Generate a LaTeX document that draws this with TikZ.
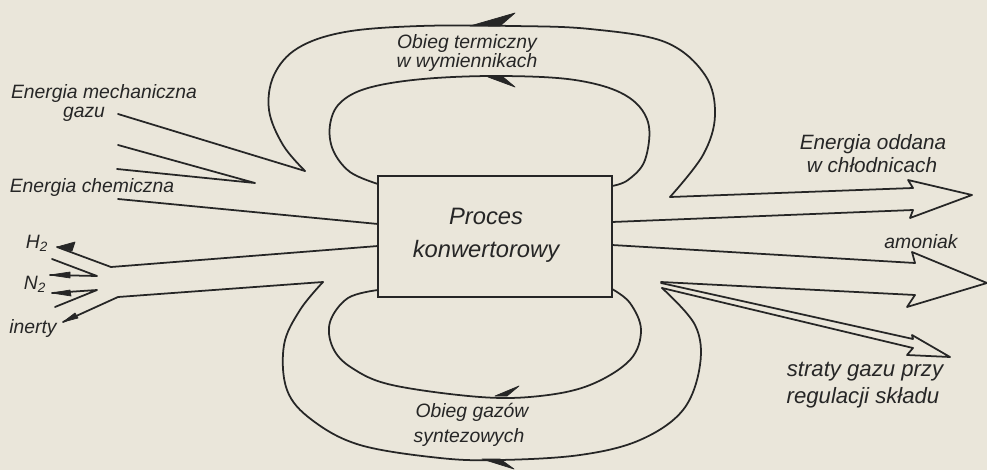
\documentclass[tikz,border=0pt]{standalone}
\usepackage{fontspec}
\setmainfont{Liberation Sans}
\definecolor{paper}{RGB}{234,230,218}
\definecolor{ink}{RGB}{38,38,38}
\begin{document}
\begin{tikzpicture}[x=0.02cm,y=-0.02cm,
  lbl/.style={font=\fontsize{11}{12}\selectfont\itshape, text=ink, inner sep=0pt},
  lblbig/.style={font=\fontsize{13.5}{14}\selectfont\itshape, text=ink, inner sep=0pt},
  lblmid/.style={font=\fontsize{12.6}{13}\selectfont\itshape, text=ink, inner sep=0pt},
  lblsm/.style={font=\fontsize{11.8}{12}\selectfont\itshape, text=ink, inner sep=0pt},
  ln/.style={draw=ink, line width=1pt, line join=round, line cap=round},
  barb/.style={fill=ink, draw=ink, line width=0.4pt, line join=round},
  boxst/.style={draw=ink, line width=1pt, minimum width=4.68cm, minimum height=2.42cm, inner sep=0pt, outer sep=0pt}]
\fill[paper] (0,0) rectangle (987,470);
\useasboundingbox (0,0) rectangle (987,470);

% central box
\node[boxst] (proc) at (495,236.5) {};
\node[lblbig] (t1) at (486,216) {Proces};
\node[lblbig] (t2) at (486,251) {konwertorowy};

% named points
\coordinate (mA) at (118,114);
\coordinate (cuspTL) at (305,171);
\coordinate (mB) at (118,145);
\coordinate (mid) at (255,183);
\coordinate (cA) at (117,169);
\coordinate (cB) at (118,199);
\coordinate (cE) at (378,224);
\coordinate (gU) at (111,267);
\coordinate (gUE) at (378,246);
\coordinate (gL) at (118,297);
\coordinate (cuspBL) at (323,282);
\coordinate (cuspTR) at (670,197);
\coordinate (cuspBR) at (662,288);

% top outer loop
\draw[ln] plot[smooth, tension=0.6] coordinates {(305,171) (283,145) (269,110) (274,75) (298,48) (345,32) (420,26) (513,26) (590,29) (665,42) (705,75) (715,115) (703,155) (670,197)};
% top inner loop
\draw[ln] plot[smooth, tension=0.6] coordinates {(378,184) (350,172) (333,150) (330,125) (340,103) (368,88) (423,79) (500,76) (575,80) (625,95) (648,122) (645,160) (628,180) (612,186)};
% bottom inner loop
\draw[ln] plot[smooth, tension=0.6] coordinates {(378,290) (348,298) (330,322) (333,348) (352,368) (392,385) (480,397) (540,396) (590,385) (630,360) (641,330) (630,303) (612,289)};
% bottom outer loop
\draw[ln] plot[smooth, tension=0.6] coordinates {(323,282) (300,310) (284,345) (287,390) (312,420) (360,445) (440,458) (500,460) (580,455) (640,440) (683,410) (700,365) (695,325) (662,288)};

% harpoon barbs on loops (pointing left)
\fill[barb] (470,26) -- (515,13) -- (500,26) -- cycle;
\fill[barb] (488,77) -- (515,87) -- (503,77) -- cycle;
\fill[barb] (495,396) -- (519,386) -- (507,396) -- cycle;
\fill[barb] (482,459) -- (514,469) -- (500,459) -- cycle;

% inputs
\draw[ln] (mA) -- (cuspTL);
\draw[ln] (mB) -- (mid) -- (cA);
\draw[ln] (cB) -- (cE);
\draw[ln] (57,247) -- (gU) -- (gUE);
\draw[ln] (52,259) -- (97,276) -- (50,275);
\draw[ln] (52,293) -- (97,290) -- (55,307);
\draw[ln] (63,322) -- (gL) -- (cuspBL);
% feathered tails
\fill[barb] (57,247) -- (75,242) -- (72,251) -- cycle;
\fill[barb] (50,275) -- (70,272) -- (70,278) -- cycle;
\fill[barb] (52,293) -- (70,290) -- (71,296) -- cycle;
\fill[barb] (63,322) -- (75,313) -- (78,318) -- cycle;

% outputs
\draw[ln] (cuspTR) -- (913,188) -- (908,180) -- (972,195) -- (910,218) -- (913,210) -- (612,222);
\draw[ln] (612,245) -- (915,263) -- (912,252) -- (987,283) -- (907,307) -- (915,295) -- (661,282);
\draw[ln] (661,283) -- (913,339) -- (912,335) -- (950,357) -- (907,355) -- (913,348) -- (cuspBR);

% labels
\node[lbl] (l1) at (104,94) {Energia mechaniczna};
\node[lbl] (l2) at (84,114) {gazu};
\node[lbl] (l3) at (92,188) {Energia chemiczna};
\node[lbl] (l4) at (37,243) {H\textsubscript{2}};
\node[lbl] (l5) at (35,284) {N\textsubscript{2}};
\node[lbl] (l6) at (33,328) {inerty};
\node[lbl] (l7) at (467,44) {Obieg termiczny};
\node[lbl] (l8) at (467,63) {w wymiennikach};
\node[lbl] (l9) at (472,412) {Obieg gazów};
\node[lbl] (l10) at (469,437) {syntezowych};
\node[lblsm] (l11) at (873,144) {Energia oddana};
\node[lblsm] (l12) at (872,165) {w chłodnicach};
\node[lbl] (l13) at (921,242) {amoniak};
\node[lblmid] (l14) at (865,372) {straty gazu przy};
\node[lblmid] (l15) at (863,398) {regulacji składu};
\end{tikzpicture}
\end{document}
